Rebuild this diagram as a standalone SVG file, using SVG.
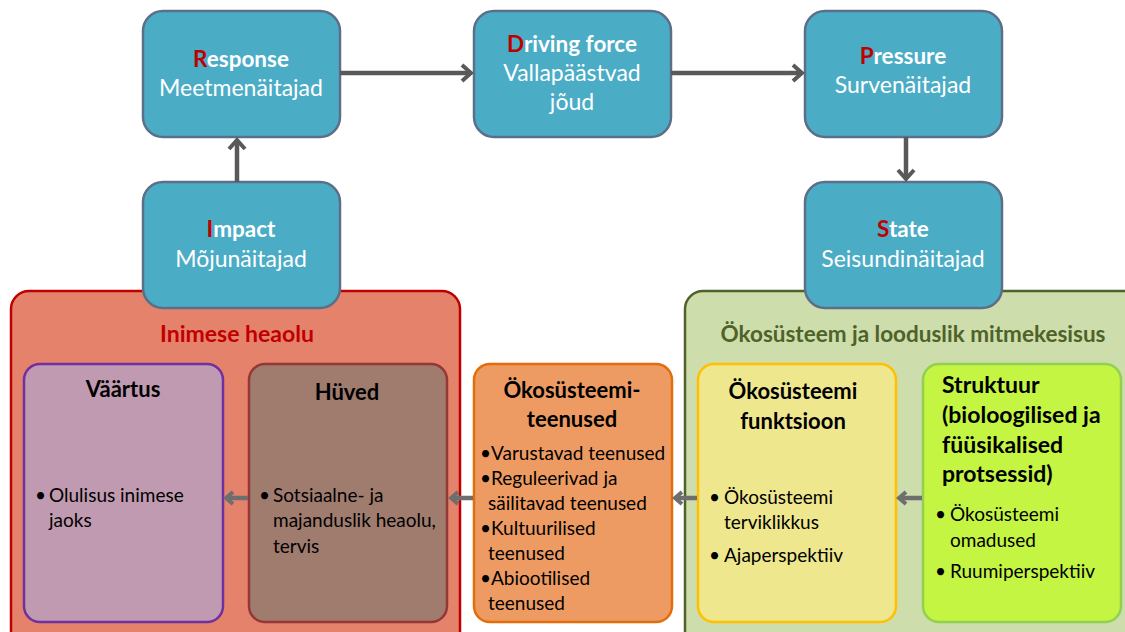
<svg xmlns="http://www.w3.org/2000/svg" width="1125" height="632" viewBox="0 0 1125 632">
<style>
text{font-family:Lato,"Open Sans","Liberation Sans",sans-serif}
.dp{fill:#4BACC6;stroke:#5B6F88;stroke-width:2.5}
.t{font-size:23px;fill:#fff;text-anchor:middle}
.tb{font-size:22.5px;fill:#fff;font-weight:bold;text-anchor:middle}
.r{fill:#C00000}
.h{font-size:22px;font-weight:bold;fill:#000;text-anchor:middle}
.s{font-size:23px;font-weight:bold;fill:#000}
.b{font-size:19px;fill:#000}
.con{stroke:#595959;stroke-width:4.5;fill:none}
.con2{stroke:#6E6E6E;stroke-width:4.5;fill:none}
</style>
<defs>
<marker id="ah" markerWidth="14" markerHeight="20" refX="11" refY="10" orient="auto" markerUnits="userSpaceOnUse">
<path d="M2,2 L11,10 L2,18" fill="none" stroke="#595959" stroke-width="4"/>
</marker>
<marker id="ah2" markerWidth="12" markerHeight="16" refX="9" refY="8" orient="auto" markerUnits="userSpaceOnUse">
<path d="M2,2 L9,8 L2,14" fill="none" stroke="#6E6E6E" stroke-width="4"/>
</marker>
</defs>

<g id="inimese-heaolu">
<rect x="11" y="291" width="449" height="360" rx="18" fill="#E5826B" stroke="#C00000" stroke-width="2.5"/>
<text x="237" y="342" font-size="23" font-weight="bold" fill="#C00000" text-anchor="middle">Inimese heaolu</text>
</g>
<g id="okosusteem">
<rect x="685" y="291" width="460" height="360" rx="18" fill="#CDDDAC" stroke="#4F6228" stroke-width="2.5"/>
<text x="913" y="342" font-size="22.5" font-weight="bold" fill="#4F6228" text-anchor="middle">Ökosüsteem ja looduslik mitmekesisus</text>
</g>

<g id="vaartus">
<rect x="24" y="364" width="199" height="258" rx="16" fill="#C09AB0" stroke="#7030A0" stroke-width="2.5"/>
<text x="123" y="397" class="h">Väärtus</text>
<text x="35" y="502" class="b">•</text>
<text x="49" y="502" class="b">Olulisus inimese</text>
<text x="49" y="527" class="b">jaoks</text>
</g>
<g id="huved">
<rect x="249" y="364" width="198" height="258" rx="16" fill="#A07C6F" stroke="#953735" stroke-width="2.5"/>
<text x="347" y="400" class="h">Hüved</text>
<text x="259" y="502" class="b">•</text>
<text x="273" y="502" class="b">Sotsiaalne- ja</text>
<text x="273" y="527" class="b">majanduslik heaolu,</text>
<text x="273" y="553" class="b">tervis</text>
</g>
<g id="teenused">
<rect x="474" y="364" width="198" height="258" rx="16" fill="#EE9B63" stroke="#E46C0A" stroke-width="2.5"/>
<text x="572" y="398" class="h">Ökosüsteemi-</text>
<text x="572" y="427" class="h">teenused</text>
<text x="480" y="460" class="b">•Varustavad teenused</text>
<text x="480" y="485" class="b">•Reguleerivad ja</text>
<text x="488" y="510" class="b">säilitavad teenused</text>
<text x="480" y="535" class="b">•Kultuurilised</text>
<text x="488" y="560" class="b">teenused</text>
<text x="480" y="585" class="b">•Abiootilised</text>
<text x="488" y="610" class="b">teenused</text>
</g>
<g id="funktsioon">
<rect x="698" y="364" width="198" height="258" rx="16" fill="#EEE78E" stroke="#FFC000" stroke-width="2.5"/>
<text x="793" y="399" class="h">Ökosüsteemi</text>
<text x="793" y="429" class="h">funktsioon</text>
<text x="709" y="504" class="b">•</text>
<text x="724" y="504" class="b">Ökosüsteemi</text>
<text x="724" y="529" class="b">terviklikkus</text>
<text x="709" y="562" class="b">•</text>
<text x="724" y="562" class="b">Ajaperspektiiv</text>
</g>
<g id="struktuur">
<rect x="923" y="364" width="198" height="258" rx="16" fill="#C4F542" stroke="#92D050" stroke-width="2.5"/>
<text x="942" y="393" class="s">Struktuur</text>
<text x="942" y="423" class="s">(bioloogilised ja</text>
<text x="942" y="453" class="s">füüsikalised</text>
<text x="942" y="482" class="s">protsessid)</text>
<text x="935" y="521" class="b">•</text>
<text x="950" y="521" class="b">Ökosüsteemi</text>
<text x="950" y="547" class="b">omadused</text>
<text x="935" y="578" class="b">•</text>
<text x="950" y="578" class="b">Ruumiperspektiiv</text>
</g>

<g id="response">
<rect x="143" y="11" width="197" height="126" rx="20" class="dp"/>
<text x="241" y="67" class="tb"><tspan class="r">R</tspan>esponse</text>
<text x="241" y="96" class="t">Meetmenäitajad</text>
</g>
<g id="driving">
<rect x="474" y="11" width="197" height="126" rx="20" class="dp"/>
<text x="572" y="52" class="tb"><tspan class="r">D</tspan>riving force</text>
<text x="572" y="81" class="t">Vallapäästvad</text>
<text x="572" y="110" class="t">jõud</text>
</g>
<g id="pressure">
<rect x="805" y="11" width="197" height="126" rx="20" class="dp"/>
<text x="903" y="64" class="tb"><tspan class="r">P</tspan>ressure</text>
<text x="903" y="93" class="t">Survenäitajad</text>
</g>
<g id="impact">
<rect x="143" y="182" width="197" height="126" rx="20" class="dp"/>
<text x="241" y="237" class="tb"><tspan class="r">I</tspan>mpact</text>
<text x="241" y="267" class="t">Mõjunäitajad</text>
</g>
<g id="state">
<rect x="805" y="182" width="197" height="126" rx="20" class="dp"/>
<text x="903" y="237" class="tb"><tspan class="r">S</tspan>tate</text>
<text x="903" y="267" class="t">Seisundinäitajad</text>
</g>

<g id="connectors">
<line x1="340" y1="73" x2="471" y2="73" class="con" marker-end="url(#ah)"/>
<line x1="671" y1="73" x2="802" y2="73" class="con" marker-end="url(#ah)"/>
<line x1="906" y1="137" x2="906" y2="179" class="con" marker-end="url(#ah)"/>
<line x1="237" y1="182" x2="237" y2="140" class="con" marker-end="url(#ah)"/>
<line x1="922" y1="498" x2="899" y2="498" class="con2" marker-end="url(#ah2)"/>
<line x1="697" y1="498" x2="675" y2="498" class="con2" marker-end="url(#ah2)"/>
<line x1="473" y1="498" x2="451" y2="498" class="con2" marker-end="url(#ah2)"/>
<line x1="248" y1="498" x2="226" y2="498" class="con2" marker-end="url(#ah2)"/>
</g>
</svg>
